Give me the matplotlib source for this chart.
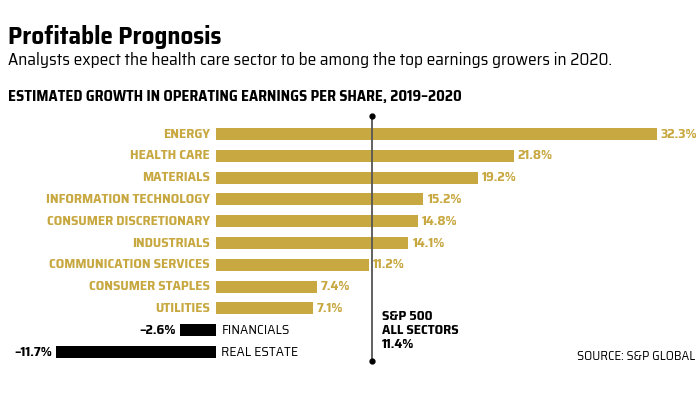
import matplotlib.pyplot as plt

# dati
sectors = ['ENERGY', 'HEALTH CARE', 'MATERIALS', 'INFORMATION TECHNOLOGY',
           'CONSUMER DISCRETIONARY', 'INDUSTRIALS', 'COMMUNICATION SERVICES',
           'CONSUMER STAPLES', 'UTILITIES', 'FINANCIALS', 'REAL ESTATE']
growth = [32.3, 21.8, 19.2, 15.2, 14.8, 14.1, 11.2, 7.4, 7.1, -2.6, -11.7]
sp500 = 11.4

gold = '#C8A841'
font = ['Saira SemiCondensed', 'DejaVu Sans']

fig = plt.figure(figsize=(7, 3.97), dpi=100)
ax = fig.add_axes([0, 0, 1, 1])
ax.set_xlim(-15.82, 35.46)
ax.set_ylim(12.06, -6.15)
ax.axis('off')

pos = list(range(len(sectors)))
colors = [gold if v >= 0 else 'black' for v in growth]
ax.barh(pos, growth, height=0.55, color=colors)

for i, (s, v) in enumerate(zip(sectors, growth)):
    if v >= 0:
        ax.text(-0.45, i, s, ha='right', va='center', color=gold,
                fontsize=10, fontweight='bold', family=font)
        ax.text(v + 0.3, i, f'{v}%', ha='left', va='center', color=gold,
                fontsize=10, fontweight='bold', family=font)
    else:
        ax.text(0.4, i, s, ha='left', va='center', color='black',
                fontsize=10, family=font)
        ax.text(v - 0.3, i, f'\u2013{abs(v)}%', ha='right', va='center',
                color='black', fontsize=10, fontweight='bold', family=font)

# linea S&P 500
ax.plot([sp500, sp500], [-0.85, 10.4], color='#555555', lw=1.3)
ax.plot([sp500, sp500], [-0.85, 10.4], 'o', color='black', ms=3.5)
ax.text(sp500 + 0.75, 8.05, 'S&P 500\nALL SECTORS\n11.4%', ha='left', va='top',
        fontsize=10, fontweight='bold', family=font, linespacing=1.12)

fig.text(0.011, 0.907, 'Profitable Prognosis', fontsize=18, fontweight='bold',
         family=font, va='center')
fig.text(0.011, 0.849, 'Analysts expect the health care sector to be among the top earnings growers in 2020.',
         fontsize=12.5, family=font, va='center')
fig.text(0.011, 0.756, 'ESTIMATED GROWTH IN OPERATING EARNINGS PER SHARE, 2019\u20132020',
         fontsize=10.9, fontweight='bold', family=font, va='center')
fig.text(0.993, 0.101, 'SOURCE: S&P GLOBAL', fontsize=9.4, family=font,
         ha='right', va='center')

fig.savefig('out.png', dpi=100)
